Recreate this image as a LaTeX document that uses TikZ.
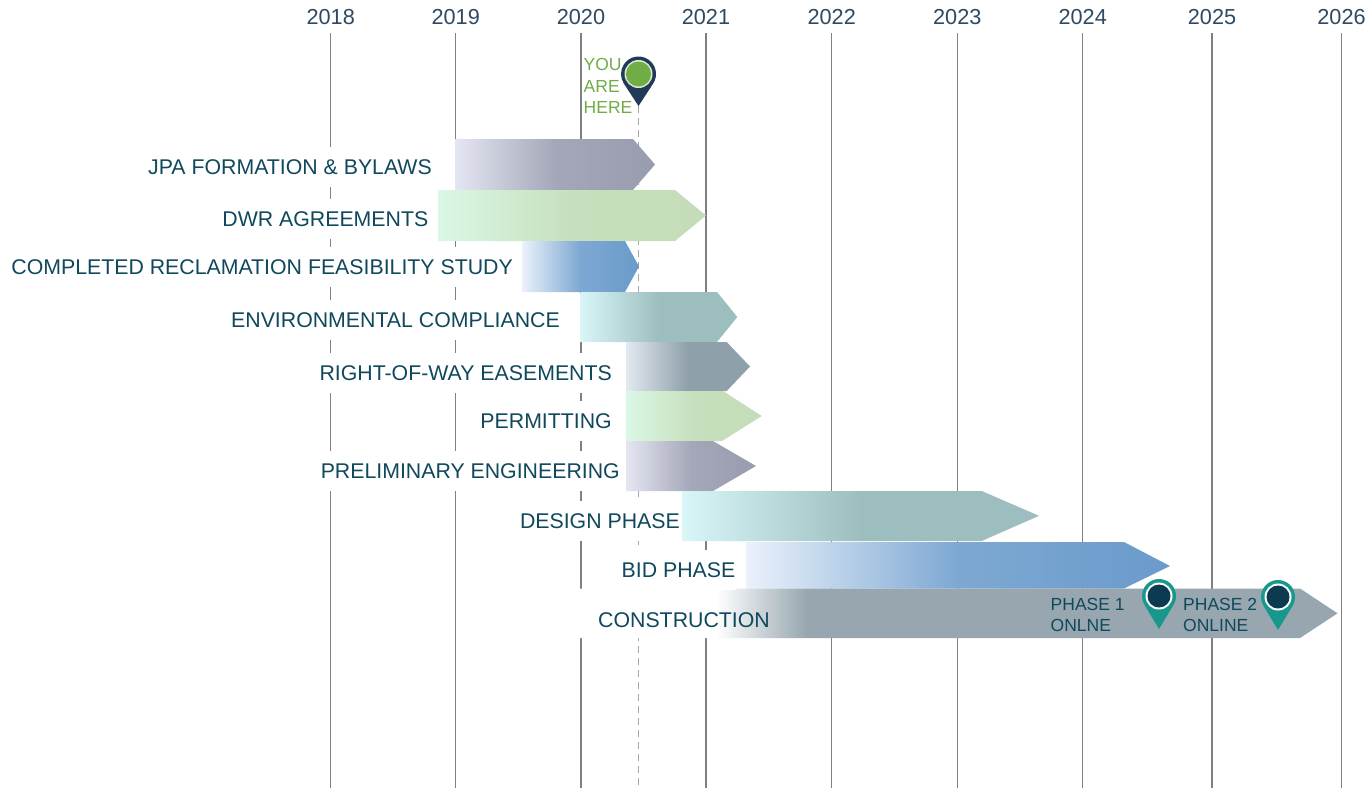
\documentclass[tikz,border=0pt]{standalone}
\usepackage{fontspec}
\setmainfont{Liberation Sans}
\usepackage{xcolor}
\usepackage{tikz}
\usetikzlibrary{positioning}
\definecolor{labelcolor}{RGB}{16, 72, 92}
\definecolor{yearcolor}{RGB}{46, 74, 99}
\definecolor{herecolor}{RGB}{112, 173, 71}
\definecolor{herepin}{RGB}{33, 58, 88}
\definecolor{onlinepin}{RGB}{24, 152, 140}
\definecolor{pincore}{RGB}{12, 58, 80}
\definecolor{gridcolor}{RGB}{128, 128, 128}
\definecolor{lavlight}{RGB}{228, 230, 242}
\definecolor{lavdark}{RGB}{153, 156, 174}
\definecolor{mintlight}{RGB}{218, 248, 230}
\definecolor{mintdark}{RGB}{197, 220, 184}
\definecolor{bluelight}{RGB}{234, 241, 251}
\definecolor{bluedark}{RGB}{106, 155, 203}
\definecolor{teallight}{RGB}{216, 246, 248}
\definecolor{tealdark}{RGB}{157, 190, 190}
\definecolor{slatelight}{RGB}{228, 233, 240}
\definecolor{slatedark}{RGB}{142, 160, 170}
\definecolor{constrgray}{RGB}{151, 166, 175}
\pgfdeclarehorizontalshading{constructionfade}{100bp}{color(0bp)=(white); color(34bp)=(white); color(40bp)=(constrgray); color(100bp)=(constrgray)}
\tikzset{
    year line/.style={gridcolor, line width=1.3pt},
    here line/.style={gray!70, line width=1.2pt, dash pattern=on 7pt off 5pt},
    year label/.style={text=yearcolor, font=\fontsize{21.7}{25}\selectfont, text height=15.5pt, text depth=0pt, inner sep=0pt},
    phase label/.style={anchor=east, fill=white, text=labelcolor, font=\fontsize{21.3}{25}\selectfont, inner xsep=1pt, text height=15.3pt, text depth=0pt, minimum height=40pt},
    pin label/.style={anchor=north west, align=left, inner sep=0pt, font=\fontsize{17.5}{21.5}\selectfont},
    lavender bar/.style={left color=lavlight, right color=lavdark, middle color=lavdark!85!lavlight},
    mint bar/.style={left color=mintlight, right color=mintdark, middle color=mintdark!90!mintlight},
    blue bar/.style={left color=bluelight, right color=bluedark, middle color=bluedark!85!bluelight},
    teal bar/.style={left color=teallight, right color=tealdark, middle color=tealdark},
    slate bar/.style={left color=slatelight, right color=slatedark, middle color=slatedark},
    construction bar/.style={shading=constructionfade}
}

\begin{document}
\begin{tikzpicture}[x=1pt, y=-1pt]
    \useasboundingbox (0,0) rectangle (1369,788);
    \fill[white] (0,0) rectangle (1369,788);

    % Year labels and grid lines
    \foreach \yr/\x in {2018/330.7, 2019/455.7, 2020/581, 2021/706, 2022/831.7, 2023/957.3, 2024/1082.7, 2025/1212, 2026/1341.5} {
        \node[year label] (Y-\yr) at (\x,17.2) {\yr};
        \coordinate (YT-\yr) at (\x,33);
        \coordinate (YB-\yr) at (\x,788);
        \draw[year line] (YT-\yr) -- (YB-\yr);
    }

    % Today marker line
    \coordinate (here) at (638.5,106);
    \coordinate (here-end) at (638.5,788);
    \draw[here line] (here) -- (here-end);

    % Phase bars
    \shade[lavender bar] (455,139) -- (633,139) -- (655,164.5) -- (633,190) -- (455,190) -- cycle;
    \shade[mint bar] (438,190) -- (675,190) -- (706,215.5) -- (675,241) -- (438,241) -- cycle;
    \shade[blue bar] (522,241) -- (625,241) -- (639,266.5) -- (625,292) -- (522,292) -- cycle;
    \shade[teal bar] (580.7,292) -- (717,292) -- (737.3,317) -- (717,342) -- (580.7,342) -- cycle;
    \shade[slate bar] (626,342) -- (726.7,342) -- (750,366.5) -- (726.7,391) -- (626,391) -- cycle;
    \shade[mint bar] (626,391) -- (723,391) -- (761.7,416) -- (722,441) -- (626,441) -- cycle;
    \shade[lavender bar] (626,441) -- (713,441) -- (756,466) -- (713,491) -- (626,491) -- cycle;
    \shade[teal bar] (682.7,491) -- (981.7,491) -- (1039,515.8) -- (981.7,541) -- (682.7,541) -- cycle;
    \shade[blue bar] (746,542) -- (1124,542) -- (1170,566) -- (1124,588.5) -- (746,588.5) -- cycle;
    \shade[construction bar] (580,588.5) -- (1300,588.5) -- (1337.5,613.3) -- (1300,638) -- (580,638) -- cycle;

    % Phase labels
    \node[phase label] (L-jpa) at (433,167) {JPA FORMATION \& BYLAWS};
    \node[phase label] (L-dwr) at (429.5,218.5) {DWR AGREEMENTS};
    \node[phase label] (L-crfs) at (514,266.5) {COMPLETED RECLAMATION FEASIBILITY STUDY};
    \node[phase label] (L-env) at (561,320) {ENVIRONMENTAL COMPLIANCE};
    \node[phase label] (L-row) at (613,372.5) {RIGHT-OF-WAY EASEMENTS};
    \node[phase label] (L-perm) at (613,421) {PERMITTING};
    \node[phase label] (L-eng) at (621,471) {PRELIMINARY ENGINEERING};
    \node[phase label] (L-design) at (681,521) {DESIGN PHASE};
    \node[phase label] (L-bid) at (736.5,570) {BID PHASE};
    \node[phase label, anchor=west, fill=none] (L-constr) at (597,620) {CONSTRUCTION};

    % You are here pin
    \begin{scope}[shift={(638.5,74)}]
        \fill[herepin] (0,32) -- (33.2:17.5) arc[start angle=33.2, end angle=-213.2, radius=17.5] -- cycle;
        \fill[herecolor!25] (0,0) circle[radius=14];
        \fill[herecolor] (0,0) circle[radius=12.5];
    \end{scope}
    \node[pin label, text=herecolor] (here-text) at (583.5,58.5) {YOU\\ARE\\HERE};

    % Online pins
    \foreach \px/\py in {1159/596, 1278/597} {
        \begin{scope}[shift={(\px,\py)}]
            \fill[onlinepin] (0,33) -- (31:17) arc[start angle=31, end angle=-211, radius=17] -- cycle;
            \fill[white] (0,0) circle[radius=13.5];
            \fill[pincore] (0,0) circle[radius=11.5];
        \end{scope}
    }
    \node[pin label, text=labelcolor] (P-1) at (1050.5,598) {PHASE 1\\ONLNE};
    \node[pin label, text=labelcolor] (P-2) at (1183,598) {PHASE 2\\ONLINE};
\end{tikzpicture}
\end{document}
